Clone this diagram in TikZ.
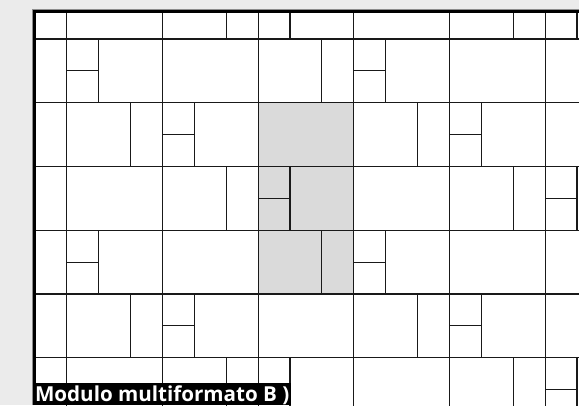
\documentclass[tikz,border=0pt]{standalone}
\usepackage{fontspec}
\newfontfamily\tagfont{Open Sans}
\definecolor{paper}{HTML}{EBEBEB}
\definecolor{tilegray}{HTML}{DADADA}

\begin{document}
\begin{tikzpicture}[x=1pt,y=-1pt]
  \tikzstyle{tile}=[draw=black!90,line width=1.1pt]
  \fill[paper] (0,0) rectangle (579,405);
  \useasboundingbox (0,0) rectangle (579,405);
  \fill[white] (34,11) rectangle (579,405);
  \begin{scope}
    \clip (34,11) rectangle (579,405);
    \begin{scope}[shift={(35pt,-39pt)},x=31.88pt,y=-31.88pt]
      \fill[tilegray] (7,2) rectangle (10,8);
      \foreach \b in {-1,...,5}
        \foreach \k in {-3,...,2} {
          \pgfmathsetmacro{\c}{9*\k+3*\b}
          \pgfmathsetmacro{\r}{2*\b}
          \draw[tile] (\c,\r) rectangle ++(1,2);
          \draw[tile] (\c+1,\r) rectangle ++(1,1) (\c+1,\r+1) rectangle ++(1,1);
          \draw[tile] (\c+2,\r) rectangle ++(2,2);
          \draw[tile] (\c+4,\r) rectangle ++(3,2);
          \draw[tile] (\c+7,\r) rectangle ++(2,2);
        }
    \end{scope}
  \end{scope}
  % frame
  \draw[black!45,line width=1pt] (32.3,405) -- (32.3,9.3) -- (579,9.3);
  \draw[line width=2.8pt] (34.6,405) -- (34.6,11.2) -- (579,11.2);
  \node[fill=black,text=white,font=\tagfont\bfseries\fontsize{20.6}{21}\selectfont,
    inner xsep=2pt,inner ysep=0pt,text height=18.8pt,text depth=3pt,anchor=base west]
    (tag) at (32.8,401.9) {Modulo multiformato B )};
\end{tikzpicture}
\end{document}
